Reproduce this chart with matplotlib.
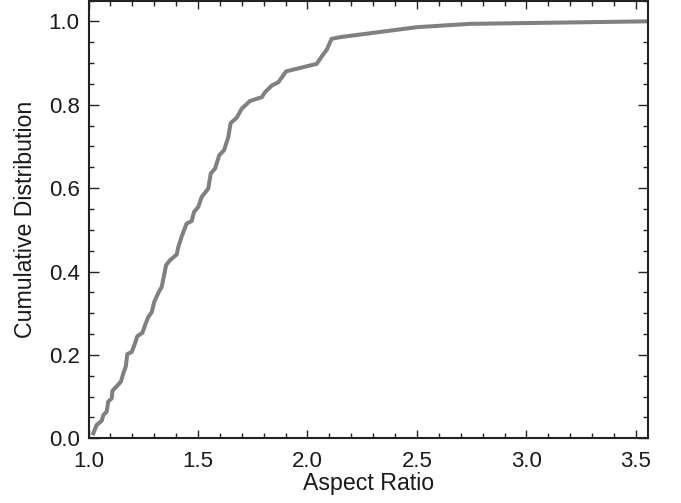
import matplotlib
matplotlib.use("Agg")
import matplotlib.pyplot as plt
from matplotlib.ticker import MultipleLocator

aspect_ratio = [1.022, 1.037, 1.060, 1.068, 1.083, 1.090, 1.106, 1.109, 1.129, 1.148,
                1.159, 1.170, 1.177, 1.197, 1.209, 1.223, 1.246, 1.258, 1.273, 1.289,
                1.300, 1.319, 1.334, 1.345, 1.354, 1.372, 1.403, 1.410, 1.426, 1.448,
                1.471, 1.482, 1.501, 1.517, 1.547, 1.558, 1.578, 1.597, 1.619, 1.638,
                1.649, 1.677, 1.699, 1.737, 1.791, 1.806, 1.837, 1.867, 1.902, 2.042,
                2.065, 2.088, 2.110, 2.148, 2.499, 2.742, 3.549]
cumulative = [0.012, 0.032, 0.042, 0.056, 0.064, 0.088, 0.096, 0.114, 0.125, 0.136,
              0.156, 0.172, 0.202, 0.207, 0.223, 0.245, 0.253, 0.271, 0.291, 0.303,
              0.327, 0.349, 0.363, 0.391, 0.415, 0.427, 0.441, 0.459, 0.485, 0.515,
              0.521, 0.543, 0.555, 0.579, 0.599, 0.635, 0.647, 0.679, 0.691, 0.722,
              0.756, 0.769, 0.790, 0.809, 0.818, 0.830, 0.846, 0.854, 0.880, 0.898,
              0.916, 0.932, 0.958, 0.962, 0.986, 0.994, 1.000]

plt.rcParams['font.family'] = ['Liberation Sans', 'DejaVu Sans']

fig = plt.figure(figsize=(6.81, 5.03), dpi=100)
ax = fig.add_axes([0.130, 0.1286, 0.8215, 0.8704])
ax.plot(aspect_ratio, cumulative, color='#808080', lw=2.9, solid_joinstyle='round')

ax.set_xlim(1.0, 3.555)
ax.set_ylim(0.0, 1.05)
ax.xaxis.set_major_locator(MultipleLocator(0.5))
ax.xaxis.set_minor_locator(MultipleLocator(0.1))
ax.yaxis.set_major_locator(MultipleLocator(0.2))
ax.yaxis.set_minor_locator(MultipleLocator(0.05))
ax.xaxis.set_major_formatter(plt.FormatStrFormatter('%.1f'))
ax.yaxis.set_major_formatter(plt.FormatStrFormatter('%.1f'))

ax.tick_params(which='both', direction='in', top=True, right=True, width=1.0, color='#222222')
ax.tick_params(axis='x', which='major', length=6)
ax.tick_params(axis='x', which='minor', length=3.3)
ax.tick_params(axis='y', which='major', length=7.2)
ax.tick_params(axis='y', which='minor', length=3.6)
ax.tick_params(axis='both', which='major', labelsize=16, labelcolor='#1a1a1a')
ax.tick_params(axis='y', which='major', pad=6.5)
ax.tick_params(axis='x', which='major', pad=9)
for s in ax.spines.values():
    s.set_linewidth(1.5)
    s.set_color('#222222')

ax.set_xlabel('Aspect Ratio', fontsize=16.7, labelpad=0, color='#1a1a1a')
ax.set_ylabel('Cumulative Distribution', fontsize=16.7, labelpad=8, color='#1a1a1a')

fig.savefig('out.png', dpi=100)
